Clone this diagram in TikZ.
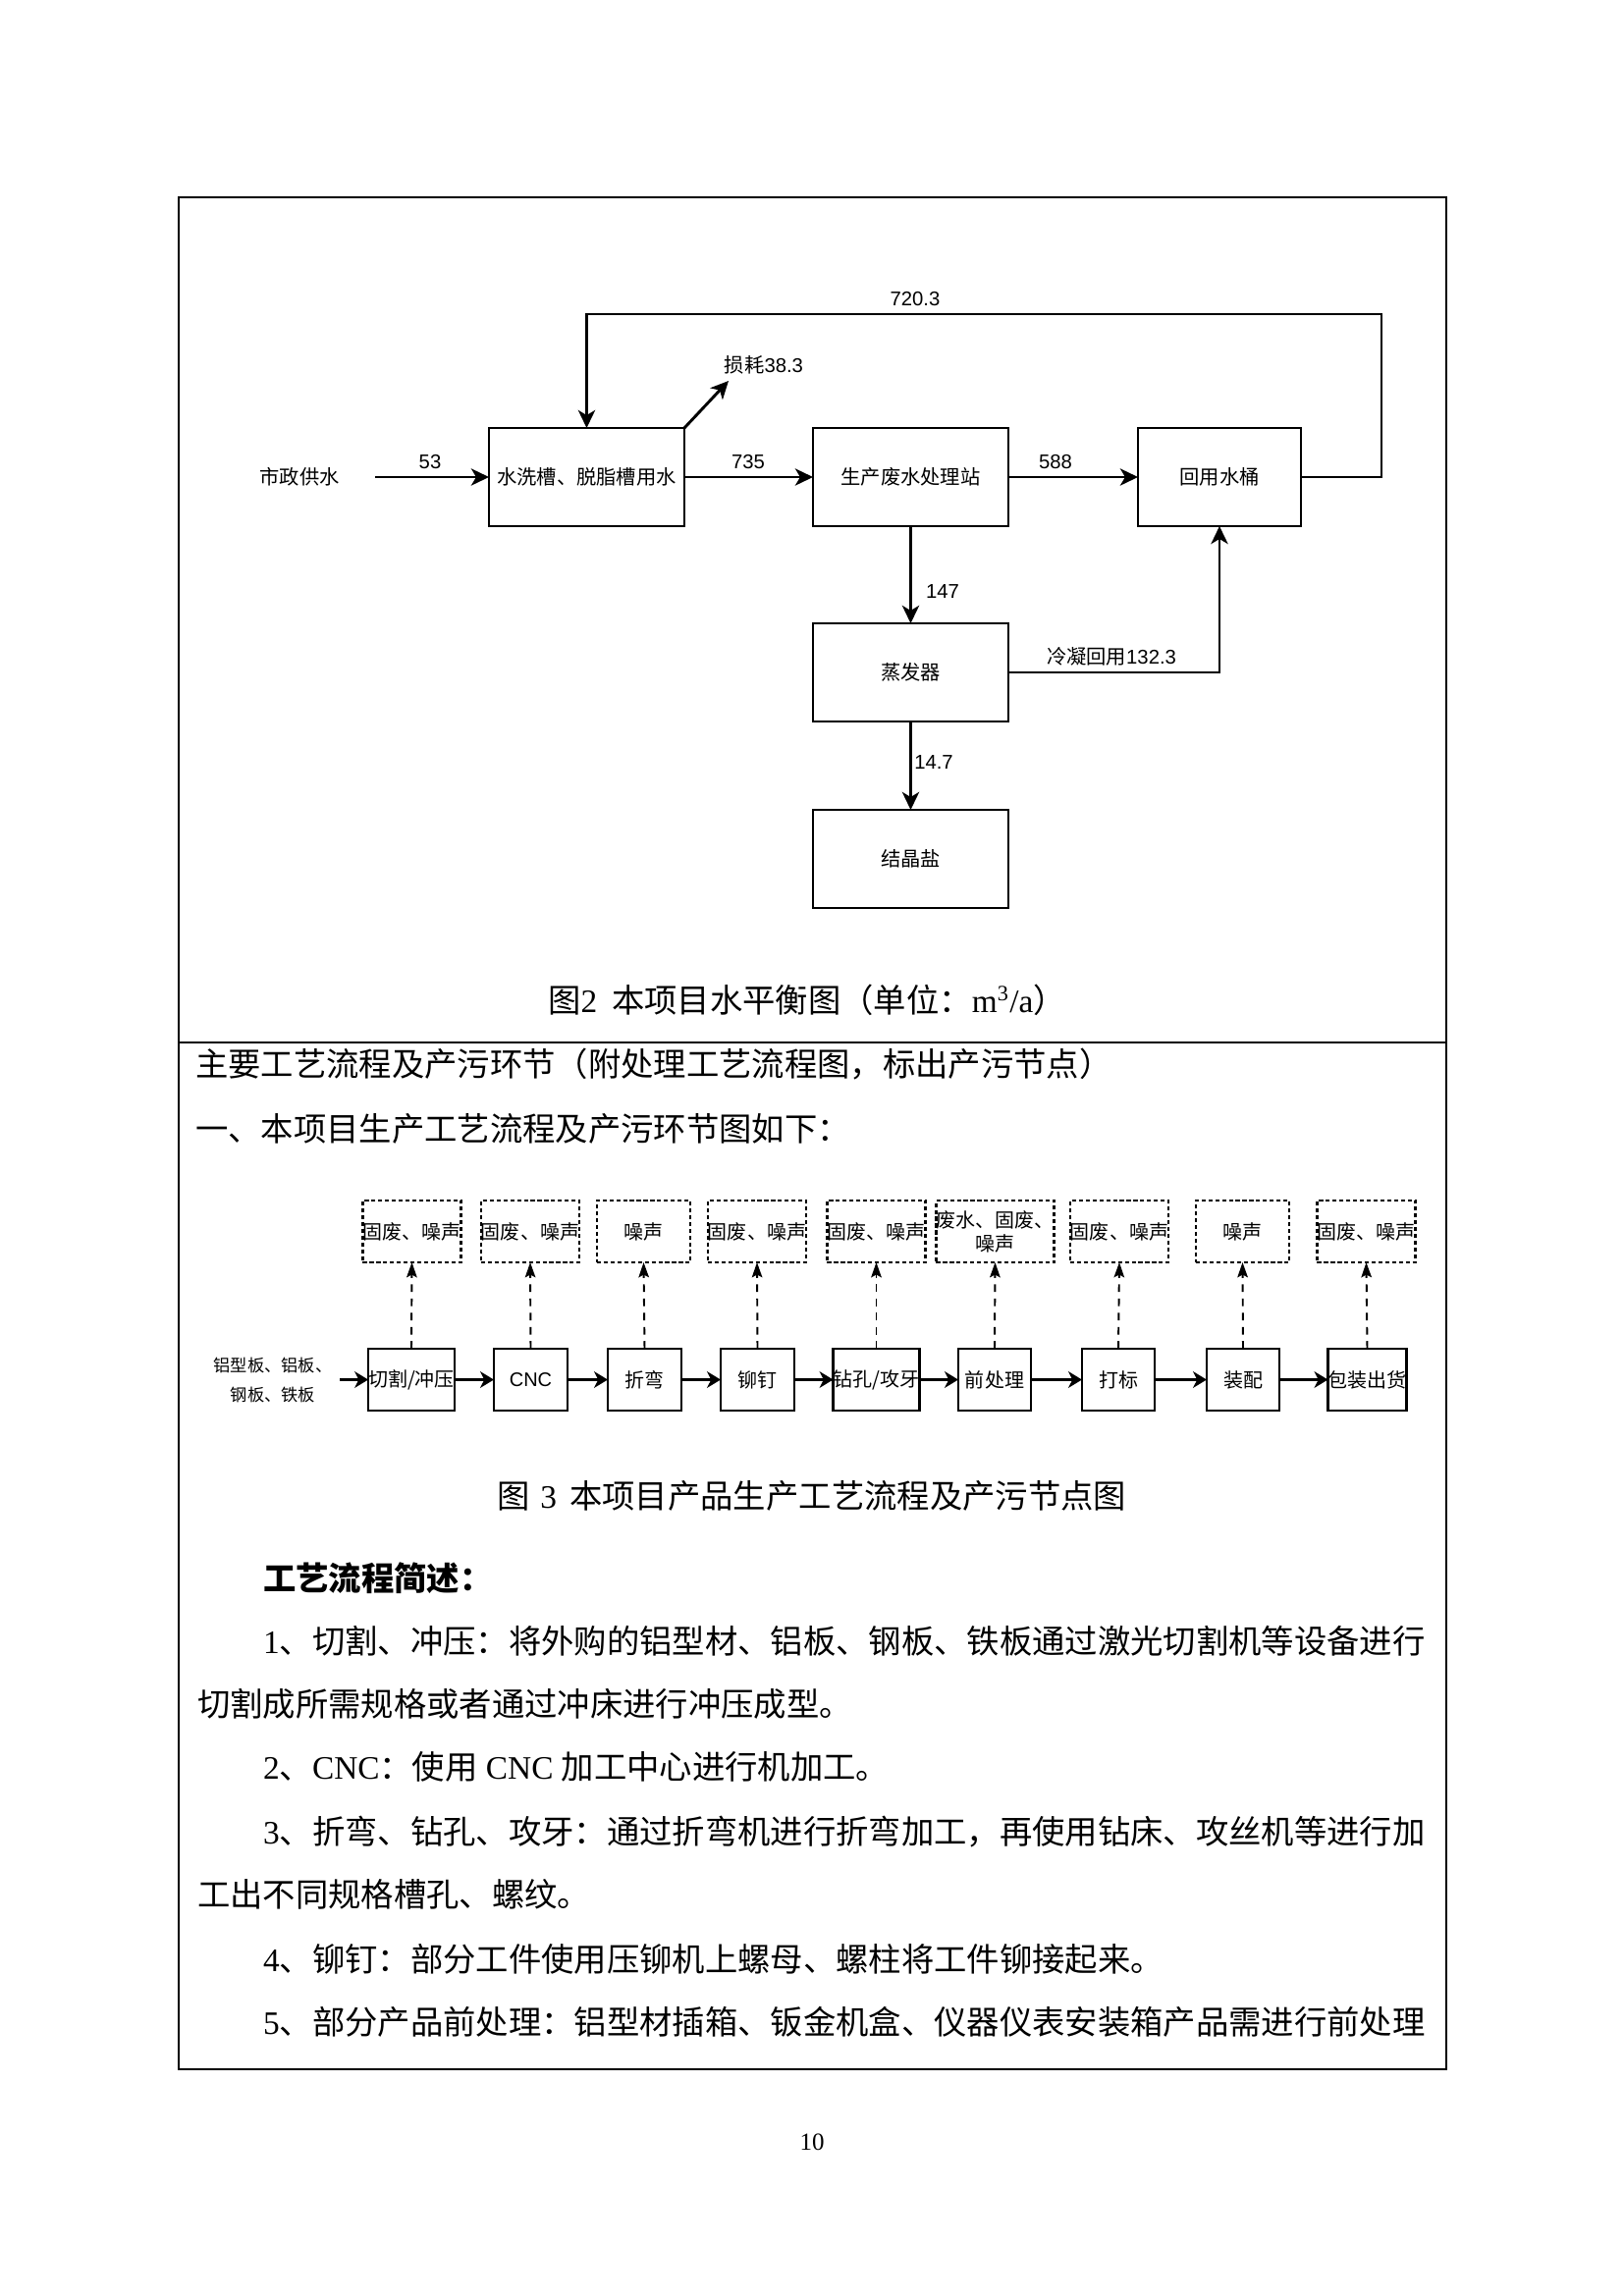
\documentclass[tikz,border=0pt]{standalone}
\usepackage{fontspec}
\setmainfont{Noto Sans CJK SC}
\newfontfamily\enserif{Liberation Serif}
\newfontfamily\ensans{Liberation Sans}
\usetikzlibrary{arrows.meta}
\newcommand{\dg}[1]{{\ensans #1}}
\newcommand{\rs}[1]{{\enserif #1}}
\begin{document}
\begin{tikzpicture}[x=0.3599pt,y=-0.3599pt,
  every node/.style={inner sep=0pt, outer sep=0pt},
  wbox/.style={draw, line width=1.05pt, minimum height=100*0.3599pt, font=\fontsize{7.3pt}{9pt}\selectfont},
  arr/.style={line width=1.05pt, -{Stealth[length=6.5pt,width=6.2pt,inset=1.8pt]}},
  lbl/.style={font=\fontsize{7.3pt}{9pt}\selectfont},
  pbox/.style={draw, line width=1pt, minimum height=63*0.3599pt, font=\fontsize{7.2pt}{9pt}\selectfont},
  ebox/.style={draw, line width=1pt, dash pattern=on 1.5pt off 1pt, minimum height=63*0.3599pt, align=center, font=\fontsize{7.2pt}{8.6pt}\selectfont},
  parr/.style={line width=1.2pt, -{Stealth[length=5pt,width=6pt,inset=1.5pt]}},
  darr/.style={line width=0.7pt, dash pattern=on 2.8pt off 2.4pt, -{Stealth[length=5.5pt,width=3.8pt,inset=1pt]}},
  bodytxt/.style={anchor=west, font=\fontsize{12pt}{14pt}\selectfont},
  captxt/.style={font=\fontsize{12pt}{14pt}\selectfont}
]
\useasboundingbox (0,0) rectangle (1654,2339);
% frame
\draw[line width=0.9pt] (182,201) rectangle (1473,2108);
\draw[line width=0.7pt] (182,1062) -- (1473,1062);

% ---------- water balance diagram ----------
\node[lbl] (city) at (305,486) {市政供水};
\coordinate (src) at (382,486);
\node[wbox, minimum width=199*0.3599pt] (wash) at (597.5,486) {水洗槽、脱脂槽用水};
\node[wbox, minimum width=199*0.3599pt] (treat) at (927.5,486) {生产废水处理站};
\node[wbox, minimum width=166*0.3599pt] (reuse) at (1242,486) {回用水桶};
\node[wbox, minimum width=199*0.3599pt] (evap) at (927.5,685) {蒸发器};
\node[wbox, minimum width=199*0.3599pt] (salt) at (927.5,875) {结晶盐};
\coordinate (loopR) at (1407,320);
\coordinate (lossend) at (742,388);

\draw[arr] (src) -- (wash.west);
\draw[arr] (wash.east) -- (treat.west);
\draw[arr] (treat.east) -- (reuse.west);
\draw[arr] (reuse.east) -| (loopR) -| (wash.north);
\draw[arr] (wash.north east) -- (lossend);
\draw[arr] (treat.south) -- (evap.north);
\draw[arr] (evap.east) -| (reuse.south);
\draw[arr] (evap.south) -- (salt.north);

\node[lbl] (l53) at (438,471) {\dg{53}};
\node[lbl] (l735) at (762,471) {\dg{735}};
\node[lbl] (l588) at (1075,471) {\dg{588}};
\node[lbl] (l720) at (932,305) {\dg{720.3}};
\node[lbl] (lloss) at (778,372) {损耗\dg{38.3}};
\node[lbl] (l147) at (960,603) {\dg{147}};
\node[lbl] (lcond) at (1132,669) {冷凝回用\dg{132.3}};
\node[lbl] (l147b) at (951,777) {\dg{14.7}};

\node[captxt] (cap2) at (822,1019) {图\rs{2}\hspace{0.45em}本项目水平衡图（单位：\rs{m\textsuperscript{3}/a}）};

% ---------- text ----------
\node[bodytxt] (t1) at (199,1084) {主要工艺流程及产污环节（附处理工艺流程图，标出产污节点）};
\node[bodytxt] (t2) at (199,1150) {一、本项目生产工艺流程及产污环节图如下：};

% ---------- process flow ----------
\node[align=center, font=\fontsize{6.2pt}{10.6pt}\selectfont] (input) at (278,1406) {铝型板、铝板、\\钢板、铁板};
\coordinate (inp) at (346,1405.5);
\foreach \n/\x/\w/\t in {p1/419/86/{切割/冲压}, p2/540.5/75/{\dg{CNC}}, p3/656.5/75/折弯, p4/771.5/75/铆钉, p5/892.5/83/{钻孔/攻牙}, p6/1013/74/前处理, p7/1139/74/打标, p8/1266/74/装配, p9/1392.5/75/包装出货}
  {\node[pbox, minimum width=\w*0.3599pt] (\n) at (\x,1405.5) {\t};}
\foreach \n/\x/\w/\t in {e1/419.5/95/固废、噪声, e2/540/94/固废、噪声, e3/655.5/95/噪声, e4/771/96/固废、噪声, e5/892.5/95/固废、噪声, e6/1013.5/115/{废水、固废、\\噪声}, e7/1140/96/固废、噪声, e8/1265.5/95/噪声, e9/1391.5/95/固废、噪声}
  {\node[ebox, minimum width=\w*0.3599pt] (\n) at (\x,1254.5) {\t};}

\draw[parr] (inp) -- (p1.west);
\foreach \a/\b in {p1/p2,p2/p3,p3/p4,p4/p5,p5/p6,p6/p7,p7/p8,p8/p9}
  {\draw[parr] (\a.east) -- (\b.west);}
\foreach \i in {1,...,9}
  {\draw[darr] (p\i.north) -- (e\i.south);}

\node[captxt] (cap3) at (827,1524) {图\hspace{0.3em}\rs{3}\hspace{0.4em}本项目产品生产工艺流程及产污节点图};

% ---------- description ----------
\node[bodytxt, font=\fontsize{12pt}{14pt}\selectfont\bfseries] (h) at (268,1608) {工艺流程简述：};
\node[bodytxt] (d1) at (268,1672) {\rs{1}、切割、冲压：将外购的铝型材、铝板、钢板、铁板通过激光切割机等设备进行};
\node[bodytxt] (d2) at (201,1736) {切割成所需规格或者通过冲床进行冲压成型。};
\node[bodytxt] (d3) at (268,1800) {\rs{2}、\rs{CNC}：使用\rs{ CNC }加工中心进行机加工。};
\node[bodytxt] (d4) at (268,1866) {\rs{3}、折弯、钻孔、攻牙：通过折弯机进行折弯加工，再使用钻床、攻丝机等进行加};
\node[bodytxt] (d5) at (201,1930) {工出不同规格槽孔、螺纹。};
\node[bodytxt] (d6) at (268,1996) {\rs{4}、铆钉：部分工件使用压铆机上螺母、螺柱将工件铆接起来。};
\node[bodytxt] (d7) at (268,2060) {\rs{5}、部分产品前处理：铝型材插箱、钣金机盒、仪器仪表安装箱产品需进行前处理};

\node[font=\fontsize{9pt}{11pt}\selectfont] (pg) at (827,2182) {\rs{10}};
\end{tikzpicture}
\end{document}
